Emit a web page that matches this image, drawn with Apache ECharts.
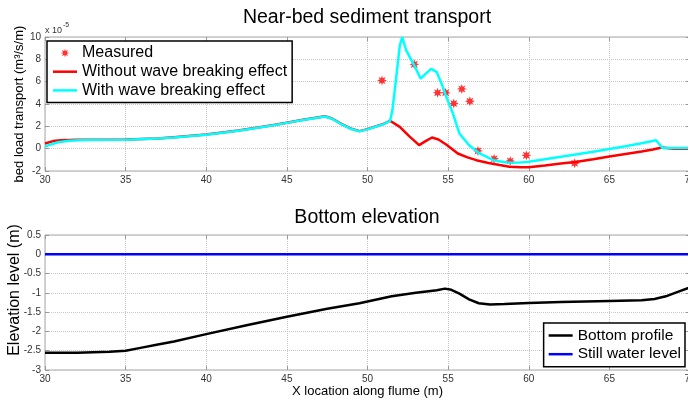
<!DOCTYPE html>
<html>
<head>
<meta charset="utf-8">
<script src="https://cdn.jsdelivr.net/npm/echarts/dist/echarts.min.js"></script>
<style>
  html, body { margin: 0; padding: 0; background: #fff; }
  #main { width: 688px; height: 398px; }
</style>
</head>
<body>
<div id="main"></div>
<script>
// near-bed sediment transport (x 1e-5 m^3/s/m) along the flume
var measuredX = [50.9, 52.9, 54.35, 54.85, 55.35, 55.85, 56.35, 56.85, 57.85, 58.85, 59.85, 62.85];
var measuredQ = [6.1, 7.55, 5.0, 5.0, 4.05, 5.35, 4.25, -0.2, -0.9, -1.1, -0.6, -1.3];

var withoutX = [30, 30.5, 31, 32, 33, 35, 37, 38, 40, 42, 43, 44, 45, 46, 47, 47.35, 47.8, 48.4, 49, 49.5, 50, 50.5, 51, 51.4,
	52, 52.6, 53.2, 53.6, 54.0, 54.4, 54.9, 55.6, 56.2, 56.75, 57.5, 58.2, 58.8, 59.5, 60, 61, 62, 63, 64, 65, 66, 67, 67.7, 68.25, 69, 70];
var withoutQ = [0.46, 0.68, 0.76, 0.8, 0.8, 0.82, 0.92, 1.02, 1.27, 1.62, 1.85, 2.08, 2.33, 2.58, 2.82, 2.9, 2.7, 2.2, 1.78, 1.57, 1.75, 1.98, 2.22, 2.5,
	1.95, 1.1, 0.32, 0.68, 1.0, 0.82, 0.35, -0.43, -0.78, -1.03, -1.28, -1.47, -1.62, -1.66, -1.66, -1.5, -1.33, -1.17, -0.94, -0.7, -0.47, -0.25, -0.07, 0.1, 0, 0];

var withX = [30, 30.4, 30.8, 31.5, 32.5, 35, 37, 38, 40, 42, 43, 44, 45, 46, 47, 47.35, 47.8, 48.4, 49, 49.5, 50, 50.5, 51, 51.4,
	51.55, 51.75, 52.0, 52.15, 52.4, 52.85, 53.3, 53.6, 53.95, 54.3, 54.6, 54.9, 55.3, 55.7, 56.3, 56.95, 57.8, 58.6, 59.4, 60,
	61, 62, 63, 64, 65, 66, 67, 67.9, 68.3, 70];
var withQ = [0.18, 0.4, 0.58, 0.7, 0.77, 0.8, 0.9, 1.0, 1.25, 1.6, 1.83, 2.06, 2.31, 2.56, 2.8, 2.88, 2.68, 2.18, 1.76, 1.55, 1.73, 1.96, 2.2, 2.48,
	3.5, 6.0, 9.2, 10.0, 8.8, 7.6, 6.27, 6.7, 7.15, 6.85, 5.8, 4.6, 3.14, 1.36, 0.3, -0.43, -1.03, -1.23, -1.25, -1.18,
	-0.95, -0.72, -0.5, -0.28, -0.03, 0.22, 0.49, 0.75, 0.05, 0.05];

// bottom elevation (m)
var profileX = [30, 32, 34, 35, 36, 37, 38, 40, 42.5, 45, 47.5, 49.5, 50.5, 51.5, 53, 54.3, 54.8, 55.2, 55.7, 56.3, 56.9, 57.6,
	58.5, 60, 62, 65, 67, 67.8, 68.5, 69.2, 70];
var profileZ = [-2.55, -2.55, -2.53, -2.5, -2.42, -2.34, -2.26, -2.07, -1.84, -1.62, -1.41, -1.27, -1.18, -1.09, -1.0, -0.93, -0.89, -0.92, -1.02, -1.17, -1.27, -1.3,
	-1.29, -1.26, -1.24, -1.21, -1.19, -1.16, -1.09, -0.98, -0.86];
var waterX = [30, 70];
var waterZ = [0, 0];

var FONT = '"Liberation Sans", Arial, sans-serif';
var LINE_ICON = 'path://M0 0 L24 0 L24 2.5 L0 2.5 Z';

function pairs(xs, ys) {
	var out = [];
	for (var i = 0; i < xs.length; i++) {
		out.push([xs[i], ys[i]]);
	}
	return out;
}

// 8 armed asterisk, with empty corners so the legend icon stays small
function starPath() {
	var d = '';
	for (var i = 0; i < 16; i++) {
		var r = i % 2 ? 5.2 : 10.5;
		var a = i * Math.PI / 8 - Math.PI / 2;
		d += (i ? 'L' : 'M') + (20 + r * Math.cos(a)).toFixed(2) + ' ' + (20 + r * Math.sin(a)).toFixed(2) + ' ';
	}
	return 'path://' + d + 'Z M0 0 L0.01 0 L0 0.01 Z M40 40 L39.99 40 L40 39.99 Z';
}

function xAxisOf(grid, top) {
	return {
		type: 'value', gridIndex: grid, min: 30, max: 70, interval: 5,
		position: top ? 'top' : 'bottom',
		axisLine: { show: false, onZero: false },
		axisTick: { show: true, inside: true, length: 4, lineStyle: { color: '#999' } },
		axisLabel: { show: !top, fontSize: 10, color: '#333', margin: 4, fontFamily: FONT },
		splitLine: { show: !top, lineStyle: { type: 'dotted', color: '#c8c8c8' } }
	};
}

function yAxisOf(grid, right, min, max, step) {
	return {
		type: 'value', gridIndex: grid, min: min, max: max, interval: step,
		position: right ? 'right' : 'left',
		axisLine: { show: false, onZero: false },
		axisTick: { show: true, inside: true, length: 4, lineStyle: { color: '#999' } },
		axisLabel: { show: !right, fontSize: 10, color: '#333', margin: 4, fontFamily: FONT },
		splitLine: { show: !right, lineStyle: { type: 'dotted', color: '#c8c8c8' } }
	};
}

var legendBase = {
	orient: 'vertical',
	itemWidth: 24,
	itemHeight: 16,
	itemGap: 2.7,
	backgroundColor: '#fff',
	borderColor: '#000',
	borderWidth: 1.5,
	borderRadius: 0,
	textStyle: { fontSize: 16, color: '#000', fontFamily: FONT }
};

var myChart = echarts.init(document.getElementById('main'), null, { renderer: 'canvas' });
var option = {
	animation: false,
	backgroundColor: '#fff',
	title: [
		{ text: 'Near-bed sediment transport', left: 367, top: 8, textAlign: 'center', padding: 0,
			textStyle: { fontSize: 19.5, fontWeight: 'normal', color: '#000', fontFamily: FONT } },
		{ text: 'Bottom elevation', left: 367, top: 208, textAlign: 'center', padding: 0,
			textStyle: { fontSize: 19.5, fontWeight: 'normal', color: '#000', fontFamily: FONT } }
	],
	grid: [
		{ left: 45, top: 37, width: 645, height: 134, show: true, borderColor: '#a6a6a6', borderWidth: 1,
			containLabel: false, outerBoundsMode: 'none' },
		{ left: 45, top: 235, width: 645, height: 135, show: true, borderColor: '#a6a6a6', borderWidth: 1,
			containLabel: false, outerBoundsMode: 'none' }
	],
	xAxis: [
		xAxisOf(0, false),
		xAxisOf(0, true),
		Object.assign(xAxisOf(1, false), {
			name: 'X location along flume (m)', nameLocation: 'middle', nameGap: 15,
			nameTextStyle: { fontSize: 13, color: '#000', fontFamily: FONT }
		}),
		xAxisOf(1, true)
	],
	yAxis: [
		yAxisOf(0, false, -2, 10, 2),
		yAxisOf(0, true, -2, 10, 2),
		yAxisOf(1, false, -3, 0.5, 0.5),
		yAxisOf(1, true, -3, 0.5, 0.5)
	],
	legend: [
		Object.assign({}, legendBase, {
			left: 47, top: 41, padding: [4, 5, 4, 6],
			data: [
				{ name: 'Measured' },
				{ name: 'Without wave breaking effect', icon: LINE_ICON },
				{ name: 'With wave breaking effect', icon: LINE_ICON }
			]
		}),
		Object.assign({}, legendBase, {
			right: 3, top: 323, padding: [4.5, 4, 4.5, 5],
			textStyle: { fontSize: 15.5, color: '#000', fontFamily: FONT },
			data: [
				{ name: 'Bottom profile', icon: LINE_ICON },
				{ name: 'Still water level', icon: LINE_ICON }
			]
		})
	],
	graphic: [
		{ type: 'text', x: 45, y: 26, style: { text: 'x 10', fill: '#333', font: '9px ' + FONT } },
		{ type: 'text', x: 63, y: 22, style: { text: '-5', fill: '#333', font: '7px ' + FONT } },
		{ type: 'text', x: 19, y: 104, rotation: Math.PI / 2,
			style: { text: 'bed load transport (m\u00b3/s/m)', fill: '#000', font: '13px ' + FONT,
				textAlign: 'center', textVerticalAlign: 'middle' } },
		{ type: 'text', x: 15, y: 290, rotation: Math.PI / 2,
			style: { text: 'Elevation level (m)', fill: '#000', font: '16px ' + FONT,
				textAlign: 'center', textVerticalAlign: 'middle' } }
	],
	series: [
		{
			name: 'Measured', type: 'scatter', xAxisIndex: 0, yAxisIndex: 0,
			symbol: starPath(), symbolSize: 19,
			itemStyle: { color: '#ff0000' },
			data: pairs(measuredX, measuredQ)
		},
		{
			name: 'Without wave breaking effect', type: 'line', xAxisIndex: 0, yAxisIndex: 0,
			symbol: 'none', showSymbol: false, lineStyle: { color: '#ff0000', width: 2.5 }, itemStyle: { color: '#ff0000' },
			data: pairs(withoutX, withoutQ)
		},
		{
			name: 'With wave breaking effect', type: 'line', xAxisIndex: 0, yAxisIndex: 0,
			symbol: 'none', showSymbol: false, lineStyle: { color: '#00ffff', width: 2.5 }, itemStyle: { color: '#00ffff' },
			data: pairs(withX, withQ)
		},
		{
			name: 'Bottom profile', type: 'line', xAxisIndex: 2, yAxisIndex: 2,
			symbol: 'none', showSymbol: false, lineStyle: { color: '#000', width: 2.5 }, itemStyle: { color: '#000' },
			data: pairs(profileX, profileZ)
		},
		{
			name: 'Still water level', type: 'line', xAxisIndex: 2, yAxisIndex: 2,
			symbol: 'none', showSymbol: false, lineStyle: { color: '#0000ff', width: 2.5 }, itemStyle: { color: '#0000ff' },
			data: pairs(waterX, waterZ)
		}
	]
};
myChart.setOption(option);
</script>
</body>
</html>
